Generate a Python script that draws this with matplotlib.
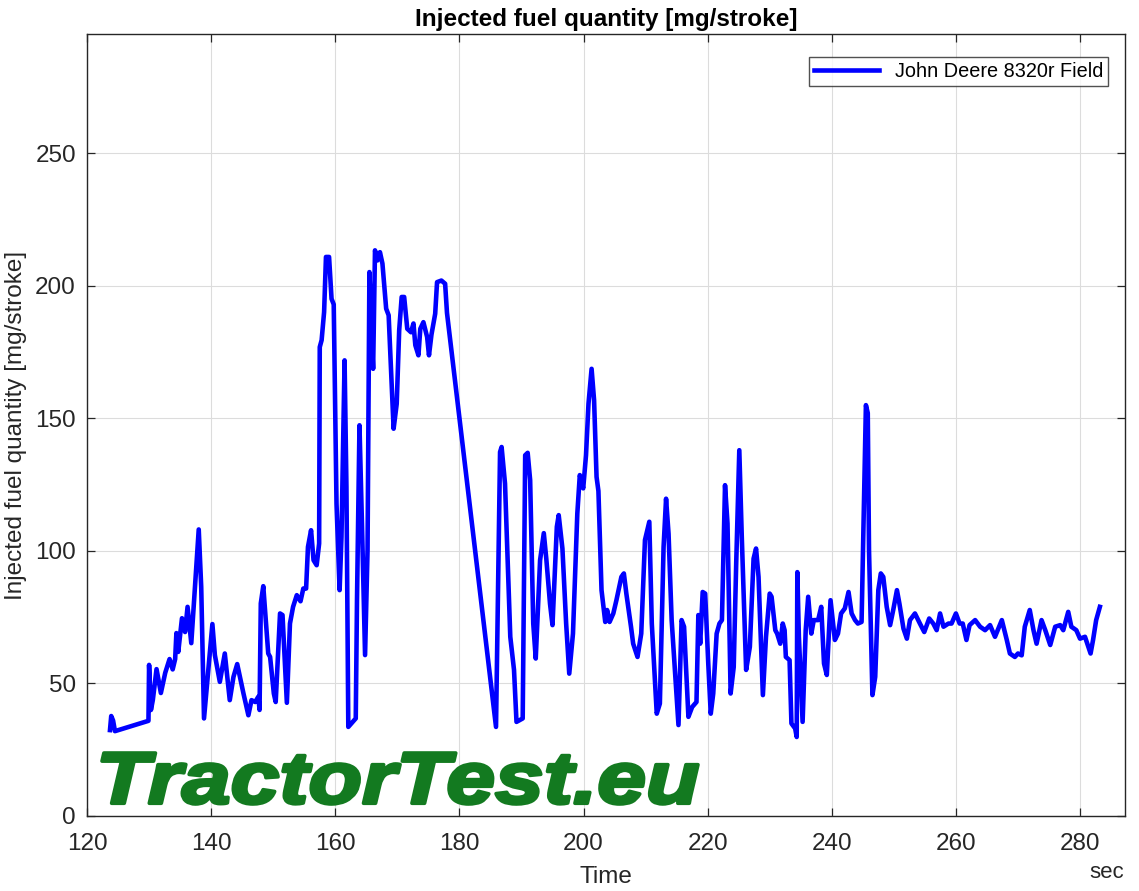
import numpy as np
import matplotlib
matplotlib.use('Agg')
import matplotlib.pyplot as plt
from matplotlib.textpath import TextPath
from matplotlib.patches import PathPatch
from matplotlib.font_manager import FontProperties
from matplotlib.transforms import Affine2D

plt.rcParams['font.family'] = ['Liberation Sans', 'DejaVu Sans']

time_s = [123.7, 123.9, 124.2, 124.5, 129.9, 130.0, 130.3, 130.6, 131.2, 131.9,
          132.6, 133.3, 133.8, 134.2, 134.4, 134.7, 135.3, 135.8, 136.2, 136.8,
          137.3, 138.0, 138.4, 138.85, 139.3, 139.8, 140.2, 140.6, 141.4, 142.2,
          143.0, 143.6, 144.2, 145.2, 146.0, 146.5, 147.1, 147.6, 147.8, 148.0,
          148.4, 148.8, 149.2, 149.5, 150.1, 150.4, 151.1, 151.5, 152.2, 152.7,
          153.2, 153.8, 154.4, 154.85, 155.3, 155.6, 156.1, 156.5, 157.0, 157.4,
          157.5, 157.8, 158.2, 158.5, 159.0, 159.4, 159.75, 160.2, 160.7, 161.0,
          161.5, 161.8, 162.1, 163.3, 163.5, 163.9, 164.3, 164.8, 165.2, 165.5,
          165.9, 166.1, 166.4, 166.8, 167.2, 167.6, 168.2, 168.6, 169.4, 169.9,
          170.3, 170.7, 171.1, 171.6, 172.2, 172.6, 172.9, 173.4, 173.7, 174.2,
          174.8, 175.1, 175.5, 176.1, 176.4, 177.1, 177.7, 178.0, 185.9, 186.55,
          186.8, 187.35, 188.2, 188.8, 189.2, 190.2, 190.6, 191.0, 191.4, 191.9,
          192.3, 193.0, 193.6, 194.0, 194.6, 195.0, 195.7, 196.0, 196.6, 197.2,
          197.7, 198.3, 199.0, 199.4, 199.95, 200.4, 200.8, 201.3, 201.7, 202.1,
          202.4, 202.9, 203.5, 203.8, 204.2, 204.8, 205.3, 206.1, 206.5, 206.9,
          207.65, 208.0, 208.7, 209.3, 209.9, 210.6, 211.0, 211.8, 212.3, 212.9,
          213.3, 213.7, 214.2, 215.3, 215.8, 216.2, 216.9, 217.5, 218.2, 218.5,
          218.8, 219.2, 219.6, 220.1, 220.5, 220.9, 221.45, 221.9, 222.3, 222.8,
          223.2, 223.7, 224.2, 224.6, 225.1, 225.5, 226.2, 226.8, 227.4, 227.8,
          228.2, 228.9, 229.4, 230.0, 230.3, 230.9, 231.2, 231.7, 232.1, 232.4,
          232.6, 233.2, 233.5, 234.1, 234.35, 234.45, 234.7, 235.3, 235.8, 236.2,
          236.7, 237.1, 237.8, 238.3, 238.75, 239.2, 239.8, 240.5, 241.0, 241.5,
          242.1, 242.7, 243.2, 243.75, 244.2, 244.8, 245.2, 245.5, 245.8, 246.0,
          246.55, 247.0, 247.5, 247.9, 248.3, 248.85, 249.4, 249.9, 250.5, 250.9,
          251.55, 252.1, 252.6, 253.4, 254.2, 254.9, 255.7, 256.35, 256.9, 257.45,
          258.0, 258.8, 259.3, 260.0, 260.6, 261.1, 261.7, 262.2, 263.1, 263.9,
          264.7, 265.5, 266.3, 267.4, 268.2, 268.7, 269.5, 270.0, 270.6, 271.1,
          271.9, 272.5, 273.0, 273.8, 274.4, 275.2, 276.0, 276.8, 277.3, 278.1,
          278.6, 279.4, 280.0, 280.8, 281.7, 282.1, 282.6, 283.2]

fuel_mg = [32.4, 37.7, 36.0, 32.0, 35.9, 57.0, 40.0, 43.7, 55.4, 46.4,
           54.0, 59.2, 55.3, 59.2, 69.0, 61.9, 74.6, 69.4, 78.9, 65.2,
           83.3, 108.1, 86.4, 36.8, 48.8, 62.6, 72.4, 60.7, 50.6, 61.3,
           43.7, 52.5, 57.3, 46.3, 38.0, 43.7, 43.0, 45.0, 40.0, 80.2,
           86.7, 73.9, 61.3, 60.0, 46.2, 43.0, 76.4, 75.8, 42.7, 72.6,
           78.9, 83.3, 81.0, 85.8, 85.8, 101.5, 107.8, 96.5, 94.6, 102.8,
           176.9, 179.5, 190.1, 210.9, 210.9, 195.1, 193.0, 117.8, 85.2, 105.3,
           171.9, 124.1, 33.6, 36.8, 81.4, 147.4, 110.3, 60.7, 100.3, 205.2,
           179.5, 168.7, 213.4, 209.6, 212.7, 208.4, 191.4, 188.9, 146.1, 155.5,
           183.3, 195.8, 195.8, 183.8, 182.5, 185.8, 177.6, 173.8, 183.8, 186.3,
           180.7, 173.8, 181.6, 189.5, 201.4, 202.0, 200.8, 189.8, 33.6, 137.3,
           139.2, 125.4, 67.6, 55.1, 35.5, 36.8, 136.1, 137.0, 126.7, 72.6,
           59.4, 96.5, 106.7, 97.1, 80.1, 72.0, 109.1, 113.5, 100.9, 72.6,
           53.7, 68.8, 114.1, 128.6, 123.6, 136.1, 155.5, 168.7, 156.9, 127.9,
           122.6, 85.2, 73.2, 77.7, 73.2, 76.4, 81.4, 90.2, 91.5, 83.9,
           71.4, 65.0, 60.0, 68.8, 104.1, 111.0, 72.6, 38.6, 42.4, 101.5,
           119.7, 106.5, 73.9, 34.3, 73.9, 71.4, 37.4, 41.1, 43.0, 75.8,
           65.0, 84.5, 83.9, 57.5, 38.6, 46.2, 68.8, 72.6, 73.9, 124.8,
           110.3, 46.2, 56.2, 95.2, 138.0, 105.3, 55.1, 63.8, 97.1, 100.9,
           90.2, 45.6, 67.6, 83.9, 82.7, 70.1, 68.8, 65.0, 72.6, 70.1,
           60.0, 58.8, 34.9, 33.0, 29.8, 92.0, 67.6, 35.5, 70.1, 82.7,
           68.8, 73.9, 73.9, 78.9, 57.5, 53.2, 81.4, 66.4, 68.8, 76.4,
           78.3, 84.5, 76.4, 73.9, 72.6, 73.2, 120.3, 155.0, 152.0, 100.3,
           45.6, 52.5, 85.2, 91.5, 90.2, 78.9, 72.0, 77.7, 85.2, 80.1,
           70.7, 66.9, 73.9, 76.4, 72.6, 69.4, 74.5, 72.6, 70.1, 76.4,
           71.4, 72.6, 72.6, 76.4, 72.6, 72.6, 66.4, 72.0, 73.9, 71.4,
           70.1, 72.0, 67.6, 73.9, 66.4, 61.3, 60.0, 61.3, 60.6, 71.4,
           77.7, 70.1, 65.0, 73.9, 70.1, 64.5, 71.4, 72.0, 70.1, 77.0,
           71.4, 70.1, 66.9, 67.6, 61.3, 66.4, 73.9, 78.9]

series_label = 'John Deere 8320r Field'
x_ticks = [120, 140, 160, 180, 200, 220, 240, 260, 280]
y_ticks = [0, 50, 100, 150, 200, 250]

fig = plt.figure(figsize=(11.39, 8.91), dpi=100)
ax = fig.add_axes([0.0764, 0.0842, 0.9116, 0.8776])

ax.plot(time_s, fuel_mg, color='#0000ff', linewidth=3.3, label=series_label,
        solid_joinstyle='round', zorder=3)

ax.set_xlim(120, 287.3)
ax.set_ylim(0, 295)
ax.set_xticks(x_ticks)
ax.set_yticks(y_ticks)
ax.grid(True, color='#dcdcdc', linewidth=0.8)
ax.set_axisbelow(True)
ax.tick_params(direction='in', length=6, width=0.9, top=True, right=True,
               labelsize=17.5, colors='#262626', pad=8)
ax.tick_params(axis='x', pad=12)
for s in ax.spines.values():
    s.set_color('#262626')
    s.set_linewidth(1.0)

ax.set_title('Injected fuel quantity [mg/stroke]', fontsize=17.5, fontweight='bold', pad=6)
ax.set_xlabel('Time', fontsize=17.5, color='#262626', labelpad=8)
ax.set_ylabel('Injected fuel quantity [mg/stroke]', fontsize=17.5, color='#262626', labelpad=6)
fig.text(1107 / 1139, 1 - 873 / 891, 'sec', fontsize=16, color='#262626', ha='center', va='center')

leg = ax.legend(loc='upper right', fontsize=14.3, frameon=True, fancybox=False,
                handlelength=3.3, borderpad=0.25, borderaxespad=0,
                bbox_to_anchor=(0.9836, 0.9706))
leg.get_frame().set_edgecolor('#262626')
leg.get_frame().set_linewidth(1.0)

# watermark logo, stretched into its box
fp = FontProperties(family='Liberation Sans', weight='bold', style='italic')
tp = TextPath((0, 0), 'TractorTest.eu', size=1, prop=fp)
bb = tp.get_extents()
x0, w = 102 / 1139, 596 / 1139
y0, h = 1 - 804 / 891, 51 / 891
tr = Affine2D().translate(-bb.x0, -bb.y0).scale(w / bb.width, h / bb.height).translate(x0, y0)
fig.add_artist(PathPatch(tr.transform_path(tp), transform=fig.transFigure,
                         facecolor='#137a20', edgecolor='#137a20', linewidth=2.6,
                         joinstyle='round', zorder=2))

fig.savefig('out.png', dpi=100)
